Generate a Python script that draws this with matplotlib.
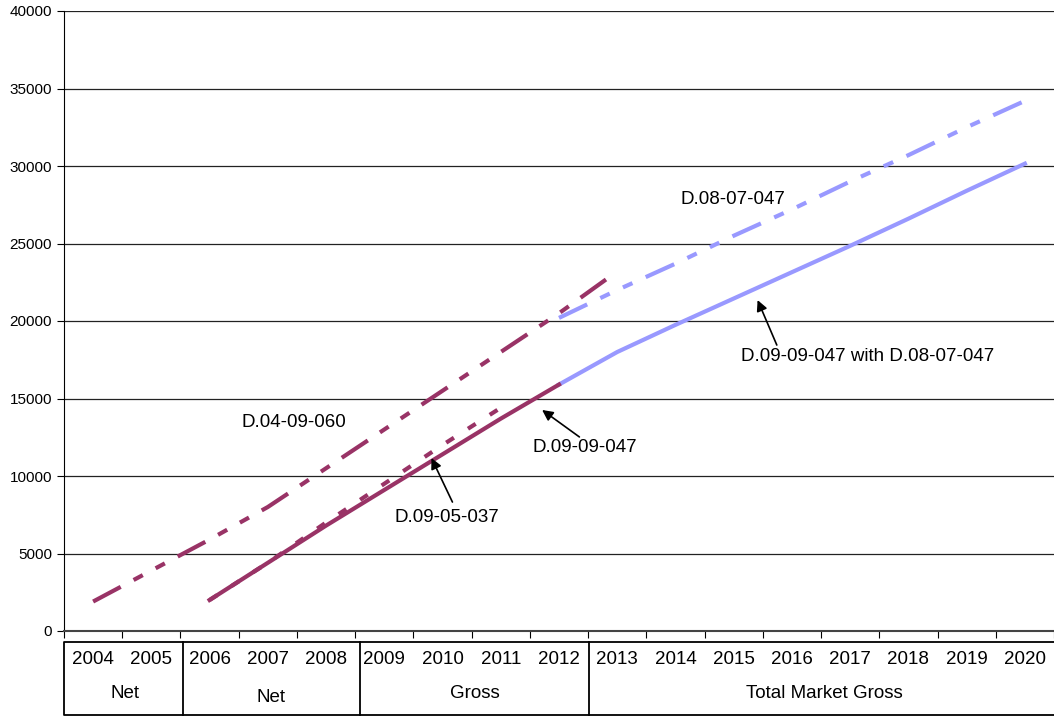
import matplotlib
matplotlib.use('Agg')
import matplotlib.pyplot as plt
import matplotlib.transforms as mtransforms
import numpy as np

# categories and series values
years = [str(y) for y in range(2004, 2021)]
groups = ["Net", "Net", "Gross", "Total Market Gross"]
group_spans = [(0, 1), (2, 4), (5, 8), (9, 16)]

d_04_09_060_years = years[0:10]
d_04_09_060 = [1900, 3900, 5900, 8000, 10500, 13000, 15500, 18000, 20500, 23200]

d_09_05_037_years = years[2:8]
d_09_05_037 = [2000, 4400, 7000, 9500, 12000, 14400]

d_09_09_047_years = years[2:9]
d_09_09_047 = [2000, 4400, 6800, 9100, 11400, 13700, 15900]

d_08_07_047_years = years[8:17]
d_08_07_047 = [20200, 22000, 23700, 25500, 27200, 29000, 30700, 32500, 34200]

d_with_years = years[8:17]
d_with = [15900, 18000, 19750, 21450, 23150, 24850, 26600, 28400, 30150]

plt.rcParams['font.family'] = ['Liberation Sans', 'DejaVu Sans']

dark = '#993366'
light = '#9999FF'

fig = plt.figure(figsize=(10.54, 7.17), dpi=100)
ax = fig.add_axes([64 / 1054, 1 - 631 / 717, 1 - 64 / 1054, 620 / 717])

xpos = {y: i for i, y in enumerate(years)}


def xs(lbls):
    return [xpos[l] for l in lbls]


# light lines first, dark ones over them
ax.plot(xs(d_08_07_047_years), d_08_07_047, color=light, lw=3,
        dashes=(7.5, 3.5, 2.5, 3.5, 2.5, 3.5))
ax.plot(xs(d_with_years), d_with, color=light, lw=3)
ax.plot(xs(d_04_09_060_years), d_04_09_060, color=dark, lw=3,
        dashes=(7.5, 3.5, 2.5, 3.5, 2.5, 3.5))
ax.plot(xs(d_09_05_037_years), d_09_05_037, color=dark, lw=3,
        dashes=(2.2, 4))
ax.plot(xs(d_09_09_047_years), d_09_09_047, color=dark, lw=3)

ax.set_xlim(-0.5, len(years) - 0.5)
ax.set_ylim(0, 40000)
ax.set_yticks(np.arange(0, 40001, 5000))
ax.tick_params(axis='y', labelsize=11, length=5, direction='out')
ax.set_xticks(np.arange(-0.5, len(years), 1))
ax.set_xticklabels([])
ax.tick_params(axis='x', length=5, direction='out')
ax.grid(axis='y', color='#222222', lw=0.9)
ax.set_axisbelow(True)
for s in ['top', 'right']:
    ax.spines[s].set_visible(False)
ax.spines['left'].set_color('black')
ax.spines['bottom'].set_color('#444444')
ax.spines['bottom'].set_linewidth(1.5)

# labels and arrows
fs = 13.5
ax.text(3.44, 13480, "D.04-09-060", fontsize=fs, ha='center', va='center')
ax.text(10.98, 27810, "D.08-07-047", fontsize=fs, ha='center', va='center')
ax.text(6.07, 7350, "D.09-05-037", fontsize=fs, ha='center', va='center')
ax.text(8.44, 11870, "D.09-09-047", fontsize=fs, ha='center', va='center')
ax.text(13.3, 17680, "D.09-09-047 with D.08-07-047", fontsize=fs,
        ha='center', va='center')
arrow = dict(arrowstyle='-|>', color='black', lw=1.2, mutation_scale=16,
             shrinkA=0, shrinkB=0)
ax.annotate('', xy=(5.81, 11160), xytext=(6.17, 8320), arrowprops=arrow)
ax.annotate('', xy=(7.71, 14260), xytext=(8.35, 12520), arrowprops=arrow)
ax.annotate('', xy=(11.41, 21350), xytext=(11.74, 18450), arrowprops=arrow)

# category table under the axis (slightly offset from the tick marks, as in the original)
tr = mtransforms.blended_transform_factory(ax.transData, fig.transFigure)
y_top = 1 - 642 / 717
y_bot = 1 - 715 / 717
x_left = -0.5
x_right = len(years) - 0.4
ax.plot([x_right, x_left, x_left, x_right],
        [y_top, y_top, y_bot, y_bot], color='black', lw=1.3,
        transform=tr, clip_on=False)
sep_shift = [0.05, 0.08, 0.01]
for (a, b), sh in zip(group_spans[:-1], sep_shift):
    ax.plot([b + 0.5 + sh, b + 0.5 + sh], [y_top, y_bot], color='black',
            lw=1.3, transform=tr, clip_on=False)
for i, y in enumerate(years):
    ax.text(i, 1 - 660 / 717, y, fontsize=fs, ha='center', va='center',
            transform=tr)
gy = [694, 698, 693, 693]
for (a, b), g, yy in zip(group_spans, groups, gy):
    ax.text((a + b) / 2 + 0.05, 1 - yy / 717, g, fontsize=fs, ha='center',
            va='center', transform=tr)

fig.savefig('out.png', dpi=100)
